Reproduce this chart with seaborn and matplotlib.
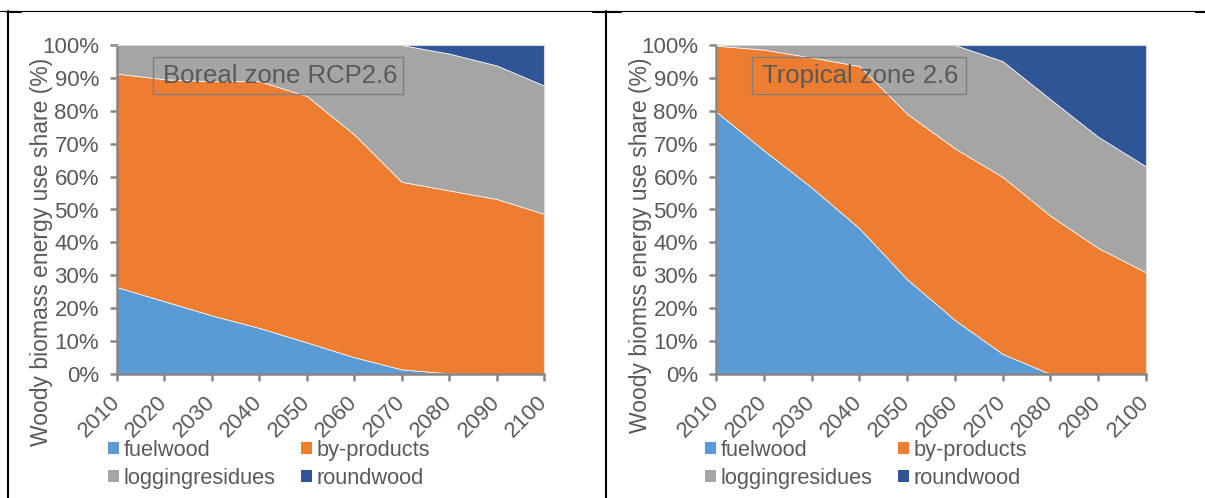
import matplotlib.pyplot as plt
import seaborn as sns
from matplotlib.patches import Patch, Rectangle
from matplotlib.lines import Line2D

# shares (%), stacked bottom -> top
years = [2010, 2020, 2030, 2040, 2050, 2060, 2070, 2080, 2090, 2100]
series = ["fuelwood", "by-products", "loggingresidues", "roundwood"]

boreal_fuelwood = [26.4, 22.1, 17.8, 14.0, 9.6, 5.1, 1.4, 0.2, 0.0, 0.0]
boreal_byproducts = [64.9, 67.5, 71.2, 75.0, 74.9, 67.7, 57.0, 55.6, 53.2, 48.7]
boreal_logging = [8.7, 10.4, 11.0, 11.0, 15.5, 27.2, 41.6, 41.6, 40.6, 39.0]
boreal_roundwood = [0.0, 0.0, 0.0, 0.0, 0.0, 0.0, 0.0, 2.6, 6.2, 12.3]

tropical_fuelwood = [79.8, 68.0, 56.7, 44.3, 28.8, 16.4, 6.1, 0.0, 0.0, 0.0]
tropical_byproducts = [20.0, 30.6, 39.5, 49.3, 50.3, 52.2, 53.8, 48.1, 38.3, 30.9]
tropical_logging = [0.2, 1.4, 3.8, 6.4, 20.9, 31.4, 35.2, 35.4, 33.8, 32.2]
tropical_roundwood = [0.0, 0.0, 0.0, 0.0, 0.0, 0.0, 4.9, 16.5, 27.9, 36.9]

yticks = list(range(0, 101, 10))
colors = ["#5B9BD5", "#ED7D31", "#A5A5A5", "#2F5597"]
text_col = "#595959"
axis_col = "#868686"

sns.set_theme(style="white")
plt.rcParams['font.family'] = ['Liberation Sans', 'DejaVu Sans']

W, H = 1205, 498
fig = plt.figure(figsize=(W / 100, H / 100), dpi=100)


def px(x, y):
    return x / W, 1 - y / H


def draw_panel(left_px, width_px, data, title, box_w, ylabel, label_y, leg_x):
    l, b = px(left_px, 374)
    ax = fig.add_axes([l, b, width_px / W, 329 / H])
    ax.stackplot(years, *data, colors=colors, labels=series,
                 edgecolor="white", linewidth=0.5)
    ax.set_xlim(2010, 2100)
    ax.set_ylim(0, 100)
    ax.set_xticks(years)
    ax.set_xticklabels([str(y) for y in years], rotation=45, ha="right",
                       va="center", rotation_mode="anchor")
    ax.set_yticks(yticks)
    ax.set_yticklabels([f"{v}%" for v in yticks])
    ax.tick_params(axis="both", direction="out", length=5, width=1.8,
                   color=axis_col, labelcolor=text_col, labelsize=16,
                   left=True, bottom=True)
    ax.tick_params(axis="y", pad=8)
    ax.tick_params(axis="x", pad=13)
    for s in ["left", "bottom"]:
        ax.spines[s].set_color(axis_col)
        ax.spines[s].set_linewidth(1.8)
    for s in ["top", "right"]:
        ax.spines[s].set_color("#D9D9D9")
        ax.spines[s].set_linewidth(0.8)
    ax.set_ylabel(ylabel, fontsize=16.5, color=text_col)
    ax.yaxis.set_label_coords(-64 / width_px, label_y)

    # title box
    ax.add_patch(Rectangle((36 / width_px, (374 - 94) / 329), box_w / width_px,
                           37 / 329, transform=ax.transAxes, fill=False,
                           edgecolor="#7F7F7F", linewidth=1.0, zorder=5))
    ax.text(46 / width_px, (374 - 76) / 329, title, transform=ax.transAxes,
            fontsize=18.5, color=text_col, va="center", ha="left", zorder=6)

    # legend is filled column by column, so reorder to get rows like the original
    order = [0, 2, 1, 3]
    handles = [Patch(facecolor=colors[i], edgecolor="none") for i in order]
    fig.legend(handles, [series[i] for i in order], ncol=2, loc="upper left",
               bbox_to_anchor=px(leg_x, 440), frameon=False,
               handlelength=0.5, handleheight=0.5, handletextpad=0.2,
               columnspacing=1.2, labelspacing=0.3, borderpad=0,
               borderaxespad=0, fontsize=15.7, labelcolor=text_col)
    return ax


draw_panel(117, 427,
           [boreal_fuelwood, boreal_byproducts, boreal_logging, boreal_roundwood],
           "Boreal zone RCP2.6", 250,
           "Woody biomass energy use share (%)", 0.372, 108)
draw_panel(716, 430,
           [tropical_fuelwood, tropical_byproducts, tropical_logging, tropical_roundwood],
           "Tropical zone 2.6", 214,
           "Woody biomss energy use share (%)", 0.392, 705)

# table border lines around the two charts
def line(x0, y0, x1, y1, lw):
    a, b = px(x0, y0)
    c, d = px(x1, y1)
    fig.add_artist(Line2D([a, c], [b, d], color="black", linewidth=lw,
                          transform=fig.transFigure))


line(0, 11, W, 11, 0.8)
for x0, x1 in [(7, 21), (593, 621), (1196, W)]:
    line(x0, 12.5, x1, 12.5, 1.5)
line(8, 11, 8, H, 1.5)
line(606, 11, 606, H, 1.5)

fig.savefig("out.png", dpi=100)
